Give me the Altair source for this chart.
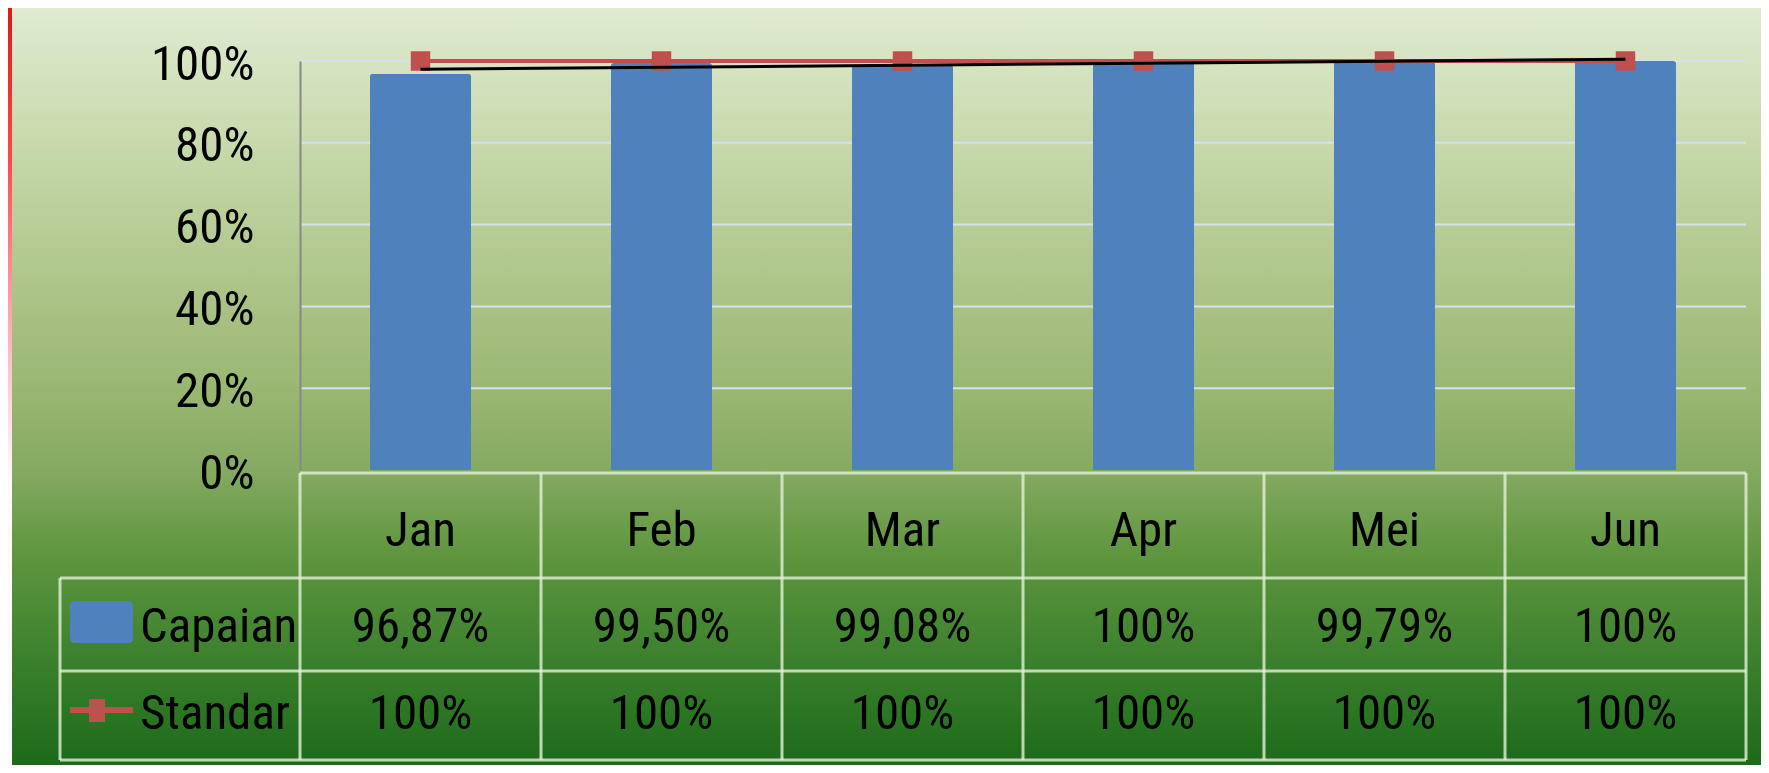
import json
import altair as alt
import pandas as pd

# ---- data ----
months = ["Jan", "Feb", "Mar", "Apr", "Mei", "Jun"]
capaian = [0.9687, 0.9950, 0.9908, 1.00, 0.9979, 1.00]
standar = [1.00, 1.00, 1.00, 1.00, 1.00, 1.00]
capaian_text = ["96,87%", "99,50%", "99,08%", "100%", "99,79%", "100%"]
standar_text = ["100%", "100%", "100%", "100%", "100%", "100%"]
y_ticks = [0, 0.2, 0.4, 0.6, 0.8, 1.0]

FONT = "Liberation Sans Narrow, Roboto Condensed, Arial Narrow, Roboto, sans-serif"
FS = 49
BLUE = "#4F81BD"
RED = "#C0504D"
LINE = "#E4F0D8"

W, H = 1446, 409

df = pd.DataFrame({
    "month": months,
    "idx": list(range(1, len(months) + 1)),
    "capaian": capaian,
    "standar": standar,
    "cap_text": capaian_text,
    "std_text": standar_text,
})

x_scale = alt.Scale(paddingInner=0, paddingOuter=0)
y_scale = alt.Scale(domain=[0, 1], nice=False, zero=True)
y_axis = alt.Axis(format="%", values=y_ticks, grid=False, ticks=False, tickSize=0,
                  domain=True, domainColor="#888888", domainWidth=2,
                  labelPadding=46, labelFont=FONT, labelFontSize=FS,
                  labelColor="black", title=None, zindex=1, labelOffset=3)


def X(**kw):
    return alt.X("month:N", sort=months, scale=x_scale, axis=None, **kw)


one = alt.Data(values=[{}])

# background gradient panel
bg = alt.Chart(one).mark_rect(
    color=alt.LinearGradient(
        gradient="linear", x1=0, x2=0, y1=0, y2=1,
        stops=[
            alt.GradientStop(offset=0.0, color="#E0EBD1"),
            alt.GradientStop(offset=0.19, color="#C6D8A9"),
            alt.GradientStop(offset=0.39, color="#AAC285"),
            alt.GradientStop(offset=0.52, color="#97B56F"),
            alt.GradientStop(offset=0.61, color="#85AA62"),
            alt.GradientStop(offset=0.72, color="#60963F"),
            alt.GradientStop(offset=0.85, color="#3E822E"),
            alt.GradientStop(offset=1.0, color="#1C6A1A"),
        ],
    )
).encode(x=alt.value(-292), x2=alt.value(1461), y=alt.value(-53), y2=alt.value(704))

left_strip = alt.Chart(one).mark_rect(
    color=alt.LinearGradient(
        gradient="linear", x1=0, x2=0, y1=0, y2=1,
        stops=[
            alt.GradientStop(offset=0.0, color="#E01818"),
            alt.GradientStop(offset=0.2, color="#FF4848"),
            alt.GradientStop(offset=0.4, color="#FFA4AC"),
            alt.GradientStop(offset=0.55, color="#FFE0E4"),
            alt.GradientStop(offset=0.62, color="#FCF9F9"),
            alt.GradientStop(offset=1.0, color="#FAFAFA"),
        ],
    )
).encode(x=alt.value(-292), x2=alt.value(-288), y=alt.value(-53), y2=alt.value(704))

grid = alt.Chart(alt.Data(values=[{"v": v} for v in y_ticks[1:]])).mark_rule(
    color="#D6E1EE", strokeWidth=2
).encode(y=alt.Y("v:Q", scale=y_scale, axis=y_axis), x=alt.value(0), x2=alt.value(W))

bars = alt.Chart(df).mark_bar(
    color=BLUE, width=alt.RelativeBandSize(0.42),
    cornerRadiusTopLeft=3, cornerRadiusTopRight=3
).encode(x=X(), y=alt.Y("capaian:Q", scale=y_scale, axis=y_axis))

std_line = alt.Chart(df).mark_line(color=RED, strokeWidth=4).encode(
    x=X(), y=alt.Y("standar:Q", scale=y_scale, axis=y_axis))

std_pts = alt.Chart(df).mark_point(
    shape="square", filled=True, size=380, color=RED, opacity=1
).encode(x=X(), y=alt.Y("standar:Q", scale=y_scale, axis=y_axis))

trend = alt.Chart(df).transform_regression(
    "idx", "capaian", method="linear"
).transform_filter("datum.idx % 1 == 0").transform_calculate(
    month=f"{json.dumps(months)}[datum.idx - 1]"
).mark_line(color="black", strokeWidth=3).encode(
    x=X(), y=alt.Y("capaian:Q", scale=y_scale, axis=y_axis))

# ---- data table under the plot ----
rule_style = dict(color=LINE, strokeWidth=3, opacity=0.8)

h_top = alt.Chart(one).mark_rule(**rule_style).encode(
    x=alt.value(0), x2=alt.value(W), y=alt.value(412))
h_rows = alt.Chart(alt.Data(values=[{"y": 517}, {"y": 610}, {"y": 699}])).mark_rule(**rule_style).encode(
    x=alt.value(-240), x2=alt.value(W), y=alt.YValue("y:Q") if False else alt.Y("y:Q", scale=None, axis=None))
v_cols = alt.Chart(df).mark_rule(**rule_style).encode(
    x=X(bandPosition=0), y=alt.value(412), y2=alt.value(699))
v_right = alt.Chart(one).mark_rule(**rule_style).encode(
    x=alt.value(W), y=alt.value(412), y2=alt.value(699))
v_left = alt.Chart(one).mark_rule(**rule_style).encode(
    x=alt.value(-240), y=alt.value(517), y2=alt.value(699))

txt = dict(font=FONT, fontSize=FS, color="black", baseline="middle")
t_month = alt.Chart(df).mark_text(**txt).encode(x=X(), y=alt.value(470), text="month:N")
t_cap = alt.Chart(df).mark_text(**txt).encode(x=X(), y=alt.value(566), text="cap_text:N")
t_std = alt.Chart(df).mark_text(**txt).encode(x=X(), y=alt.value(653), text="std_text:N")

legend_rows = alt.Data(values=[{"name": "Capaian", "y": 566}, {"name": "Standar", "y": 653}])
t_legend = alt.Chart(legend_rows).mark_text(align="left", **txt).encode(
    x=alt.value(-160), y=alt.Y("y:Q", scale=None, axis=None), text="name:N")

sw_blue = alt.Chart(one).mark_rect(color=BLUE, cornerRadius=4).encode(
    x=alt.value(-230), x2=alt.value(-167), y=alt.value(540), y2=alt.value(582))
sw_line = alt.Chart(one).mark_rule(color=RED, strokeWidth=6).encode(
    x=alt.value(-230), x2=alt.value(-167), y=alt.value(649))
sw_mark = alt.Chart(one).mark_rect(color=RED).encode(
    x=alt.value(-211), x2=alt.value(-195), y=alt.value(638), y2=alt.value(661))

chart = alt.layer(
    bg, left_strip, grid, bars, std_line, std_pts, trend,
    h_top, h_rows, v_cols, v_right, v_left,
    t_month, t_cap, t_std, t_legend, sw_blue, sw_line, sw_mark,
).properties(
    width=W, height=H,
    padding={"left": 292, "top": 53, "right": 15, "bottom": 295},
    autosize=alt.AutoSizeParams(type="none"),
).configure_view(stroke=None)

chart.save("out.html", embed_options={"renderer": "svg", "actions": False})
